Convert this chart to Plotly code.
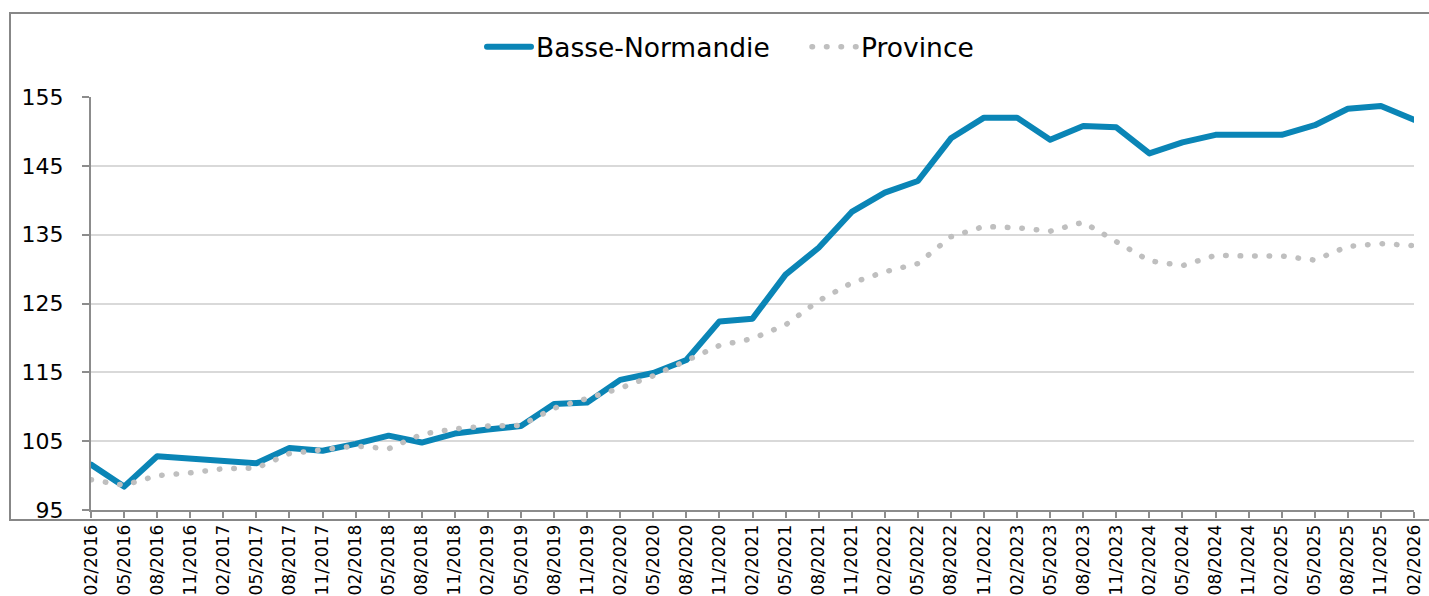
import plotly.graph_objects as go

categories = ["02/2016", "05/2016", "08/2016", "11/2016", "02/2017", "05/2017", "08/2017", "11/2017",
              "02/2018", "05/2018", "08/2018", "11/2018", "02/2019", "05/2019", "08/2019", "11/2019",
              "02/2020", "05/2020", "08/2020", "11/2020", "02/2021", "05/2021", "08/2021", "11/2021",
              "02/2022", "05/2022", "08/2022", "11/2022", "02/2023", "05/2023", "08/2023", "11/2023",
              "02/2024", "05/2024", "08/2024", "11/2024", "02/2025", "05/2025", "08/2025", "11/2025",
              "02/2026"]

basse_normandie = [101.6, 98.4, 102.8, 102.5, 102.3, 101.8, 104.0, 103.6,
                   104.6, 105.8, 104.8, 106.1, 106.7, 107.2, 110.4, 110.6,
                   113.9, 114.9, 116.8, 122.4, 122.8, 129.2, 133.1, 138.3,
                   141.1, 142.8, 149.0, 152.0, 152.0, 148.8, 150.8, 150.6,
                   146.8, 148.4, 149.5, 149.6, 149.5, 150.9, 153.3, 153.7,
                   151.7]

province = [99.4, 98.6, 100.0, 100.4, 101.0, 101.1, 103.2, 103.8,
            104.3, 103.9, 106.0, 106.8, 107.2, 107.3, 109.8, 111.2,
            112.7, 114.5, 116.6, 118.9, 119.9, 121.9, 125.4, 128.0,
            129.6, 130.8, 134.7, 136.2, 136.0, 135.5, 136.8, 134.0,
            131.2, 130.5, 132.0, 131.9, 131.9, 131.3, 133.3, 133.7,
            133.4]

y_ticks = [95, 105, 115, 125, 135, 145, 155]

FONT = "Tahoma, 'DejaVu Sans', Verdana, sans-serif"

fig = go.Figure()
fig.add_trace(go.Scatter(
    x=categories, y=basse_normandie, name="Basse-Normandie", mode="lines",
    line=dict(color="#0A85B6", width=6), cliponaxis=False,
))
fig.add_trace(go.Scatter(
    x=categories, y=province, name="Province", mode="lines",
    line=dict(color="#BFBFBF", width=5.5, dash="0.5px,14px"), cliponaxis=False,
))

W, H = 1429, 596
L, R, T, B = 91, 15, 97, 86
pw, ph = W - L - R, H - T - B

fig.update_layout(
    width=W, height=H,
    margin=dict(l=L, r=R, t=T, b=B, autoexpand=False),
    paper_bgcolor="white", plot_bgcolor="white",
    font=dict(family=FONT, color="black"),
    showlegend=True,
    legend=dict(orientation="h", x=482 / W, xref="container", xanchor="left",
                y=1 - 47 / H, yref="container", yanchor="middle",
                font=dict(size=26.5, color="black"), traceorder="normal",
                itemwidth=44, entrywidth=266, bgcolor="rgba(0,0,0,0)"),
    xaxis=dict(type="category", range=[0, len(categories) - 1], automargin=False,
               showline=True, linecolor="#8C8C8C", linewidth=2,
               ticks="outside", ticklen=6, tickcolor="#8C8C8C", tickwidth=1.5,
               tickangle=-90, tickfont=dict(size=17, color="black"),
               ticklabelstandoff=0,
               showgrid=False, zeroline=False),
    yaxis=dict(range=[95, 155], tickmode="array", tickvals=y_ticks, automargin=False,
               ticktext=[str(v) for v in y_ticks],
               showline=True, linecolor="#8C8C8C", linewidth=2,
               ticks="outside", ticklen=7, tickcolor="#8C8C8C", tickwidth=1.5,
               ticklabelstandoff=14,
               tickfont=dict(size=22, color="black"),
               showgrid=True, gridcolor="#D9D9D9", gridwidth=2, zeroline=False),
    shapes=[dict(type="rect", xref="paper", yref="paper",
                 x0=(10 - L) / pw, x1=(W + 5 - L) / pw,
                 y0=(H - T - (H + 10 - T)) / ph, y1=(H - B - 13) / ph,
                 line=dict(color="#878787", width=2), fillcolor="rgba(0,0,0,0)",
                 layer="below")],
)

post = """
document.body.style.margin='0';
document.body.style.overflow='hidden';
document.querySelectorAll('.scatterlayer .js-line').forEach(function(p){
  p.style.strokeLinecap='round'; p.style.strokeLinejoin='round';
});
document.querySelectorAll('.legend .js-line').forEach(function(p){
  p.style.strokeLinecap='round';
});
"""
fig.write_html("out.html", post_script=post, config={"displayModeBar": False})
